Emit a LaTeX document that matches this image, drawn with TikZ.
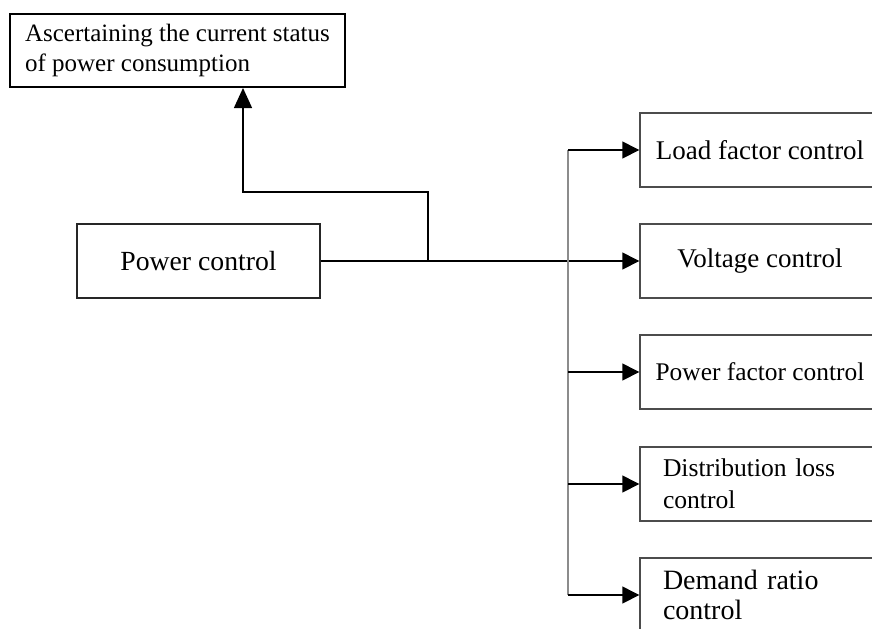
\documentclass[tikz,border=0pt]{standalone}
\usepackage{fontspec}
\setmainfont{Liberation Serif}
\usetikzlibrary{positioning,arrows.meta}

\begin{document}
\begin{tikzpicture}[
    x=0.5pt, y=-0.5pt,
    >={Triangle[length=8.5pt, width=8.5pt]},
    font=\fontsize{13.5}{16}\selectfont,
    box/.style={draw=black!70, line width=0.7pt, minimum width=120pt, minimum height=37pt, inner sep=0pt},
    link/.style={->, line width=0.7pt},
    bus/.style={draw=black!45, line width=0.7pt},
  ]
  \clip (0,0) rectangle (872,628);

  % ============================================================
  % Left part: status box and power control
  % ============================================================
  \node[draw, line width=1pt, minimum width=167.5pt, minimum height=36.5pt,
        align=left, font=\fontsize{12.5}{15}\selectfont] (status) at (177.5, 50.5)
    {Ascertaining the current status\\of power consumption};

  \node[box, draw=black!85, minimum width=121.5pt, font=\fontsize{13.85}{16}\selectfont]
    (power) at (198.5, 261) {Power control};

  % ============================================================
  % Right column of control boxes
  % ============================================================
  \node[box] (load) at (760, 150) {Load factor control};
  \node[box] (voltage) at (760, 261) {Voltage control};
  \node[box, font=\fontsize{12.7}{16}\selectfont] (pf) at (760, 372) {Power factor control};
  \node[box, text width=97pt, align=left, font=\fontsize{12.8}{16}\selectfont]
    (dist) at (760, 484) {Distribution loss\\control};
  \node[box, text width=97pt, align=left, font=\fontsize{14}{15}\selectfont]
    (demand) at (760, 595) {Demand ratio\\control};

  % Main line and branch up to the status box
  \draw[link] (power.east) -- (voltage.west);
  \coordinate (split) at (428, 261);
  \coordinate (bend) at (243, 192);
  \draw[link, -{Triangle[length=10pt, width=9pt]}] (split) |- (bend) -- (bend |- status.south);

  % Bus feeding the control boxes
  \coordinate (bus) at (568, 0);
  \draw[bus] (bus |- load.west) -- (bus |- demand.west);
  \foreach \n in {load, pf, dist, demand} {
    \draw[link] (bus |- \n.west) -- (\n.west);
  }

\end{tikzpicture}
\end{document}
